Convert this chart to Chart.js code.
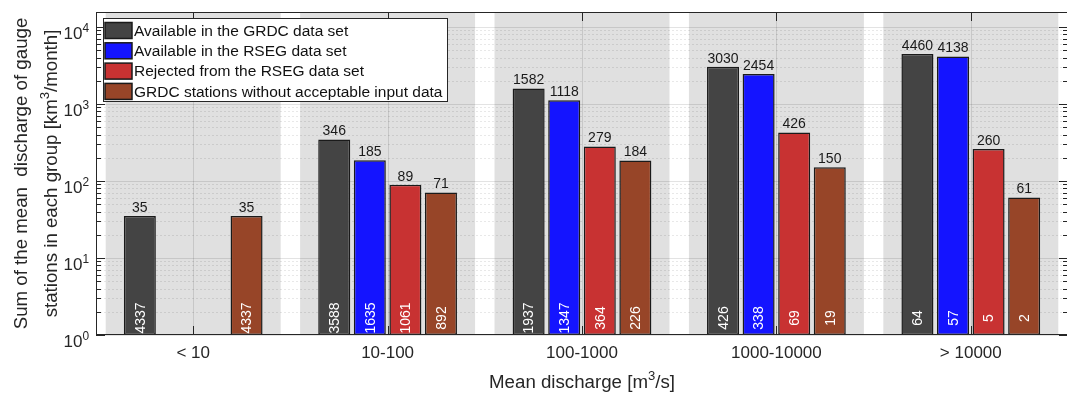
<!DOCTYPE html>
<html>
<head>
<meta charset="utf-8">
<script src="https://cdn.jsdelivr.net/npm/chart.js@4/dist/chart.umd.min.js"></script>
<style>
  html, body { margin: 0; padding: 0; background: #fff; overflow: hidden; }
  #wrap { width: 1067px; height: 393px; overflow: hidden; }
</style>
</head>
<body>
<div id="wrap"><canvas id="chart" width="1070" height="393"></canvas></div>
<script>
// discharge groups (mean discharge in m3/s)
const groupLabels = ['< 10', '10-100', '100-1000', '1000-10000', '> 10000'];
const seriesNames = [
    'Available in the GRDC data set',
    'Available in the RSEG data set',
    'Rejected from the RSEG data set',
    'GRDC stations without acceptable input data'
];
const seriesColors = ['#444444', '#1414ff', '#c83232', '#974528'];

// sum of mean discharge [km3/month]
const grdcDischarge = [35, 346, 1582, 3030, 4460];
const rsegDischarge = [null, 185, 1118, 2454, 4138];
const rejectedDischarge = [null, 89, 279, 426, 260];
const noInputDischarge = [35, 71, 184, 150, 61];

// number of gauge stations (printed inside the bars)
const grdcCount = [4337, 3588, 1937, 426, 64];
const rsegCount = [null, 1635, 1347, 338, 57];
const rejectedCount = [null, 1061, 364, 69, 5];
const noInputCount = [4337, 892, 226, 19, 2];

const yDecades = [0, 1, 2, 3, 4];

const FONT = '"Liberation Sans", Arial, Helvetica, sans-serif';
const AXIS_COLOR = '#262626';

function makeDataset(i, values, counts) {
    return {
        label: seriesNames[i],
        data: values,
        counts: counts,
        backgroundColor: seriesColors[i],
        borderColor: '#1a1a1a',
        borderWidth: 1.5,
        borderSkipped: false
    };
}

// text with a superscript part: [[text, isSup], ...]
function measureParts(ctx, parts, size) {
    let w = 0;
    parts.forEach(([t, sup]) => {
        ctx.font = (sup ? size * 0.7 : size) + 'px ' + FONT;
        w += ctx.measureText(t).width;
    });
    return w;
}

function drawParts(ctx, parts, size, x, y) {
    let cx = x;
    parts.forEach(([t, sup]) => {
        ctx.font = (sup ? size * 0.7 : size) + 'px ' + FONT;
        ctx.fillText(t, cx, sup ? y - size * 0.42 : y);
        cx += ctx.measureText(t).width;
    });
}

const decorPlugin = {
    id: 'decor',
    beforeDatasetsDraw(chart) {
        const {ctx, chartArea: a, scales: {x, y}} = chart;
        const step = x.getPixelForValue(1) - x.getPixelForValue(0);
        ctx.save();

        // grey band behind each group
        ctx.fillStyle = '#e0e0e0';
        groupLabels.forEach((g, i) => {
            const cx = x.getPixelForValue(i);
            ctx.fillRect(cx - step * 0.45, a.top, step * 0.9, a.bottom - a.top);
        });

        // horizontal grid, solid at decades, dotted at minor values
        ctx.lineWidth = 1;
        yDecades.forEach(d => {
            for (let m = 1; m <= 9; m++) {
                const v = m * Math.pow(10, d);
                if (v > y.max) break;
                const py = Math.round(y.getPixelForValue(v)) + 0.5;
                ctx.beginPath();
                if (m === 1) {
                    ctx.setLineDash([]);
                    ctx.strokeStyle = 'rgba(0,0,0,0.11)';
                } else {
                    ctx.setLineDash([2, 2]);
                    ctx.strokeStyle = 'rgba(0,0,0,0.09)';
                }
                ctx.moveTo(a.left, py);
                ctx.lineTo(a.right, py);
                ctx.stroke();
            }
        });

        // vertical grid at category centres
        ctx.setLineDash([]);
        ctx.strokeStyle = 'rgba(0,0,0,0.11)';
        groupLabels.forEach((g, i) => {
            const px = Math.round(x.getPixelForValue(i)) + 0.5;
            ctx.beginPath();
            ctx.moveTo(px, a.top);
            ctx.lineTo(px, a.bottom);
            ctx.stroke();
        });
        ctx.restore();
    },
    afterDatasetsDraw(chart) {
        const {ctx, chartArea: a, scales: {x, y}} = chart;
        ctx.save();

        // value labels
        chart.data.datasets.forEach((ds, di) => {
            const meta = chart.getDatasetMeta(di);
            meta.data.forEach((bar, j) => {
                if (ds.data[j] == null) return;
                ctx.font = '14px ' + FONT;
                ctx.fillStyle = '#1a1a1a';
                ctx.textAlign = 'center';
                ctx.textBaseline = 'bottom';
                ctx.fillText(String(ds.data[j]), bar.x, bar.y - 1);

                ctx.save();
                ctx.translate(bar.x, a.bottom - 17);
                ctx.rotate(-Math.PI / 2);
                ctx.fillStyle = '#ffffff';
                ctx.textBaseline = 'middle';
                ctx.fillText(String(ds.counts[j]), 0, 1);
                ctx.restore();
            });
        });

        // axes box
        ctx.strokeStyle = AXIS_COLOR;
        ctx.lineWidth = 1;
        ctx.strokeRect(a.left + 0.5, a.top + 0.5, a.right - a.left - 1, a.bottom - a.top - 1);

        // y ticks (inside, both sides)
        ctx.beginPath();
        yDecades.forEach(d => {
            for (let m = 1; m <= 9; m++) {
                const v = m * Math.pow(10, d);
                if (v > y.max) break;
                const py = Math.round(y.getPixelForValue(v)) + 0.5;
                const len = m === 1 ? 9 : 5;
                ctx.moveTo(a.left, py); ctx.lineTo(a.left + len, py);
                ctx.moveTo(a.right, py); ctx.lineTo(a.right - len, py);
            }
        });
        // x ticks at top and bottom
        groupLabels.forEach((g, i) => {
            const px = Math.round(x.getPixelForValue(i)) + 0.5;
            ctx.moveTo(px, a.bottom); ctx.lineTo(px, a.bottom - 9);
            ctx.moveTo(px, a.top); ctx.lineTo(px, a.top + 9);
        });
        ctx.stroke();

        // y tick labels 10^n
        ctx.fillStyle = AXIS_COLOR;
        ctx.textAlign = 'left';
        ctx.textBaseline = 'alphabetic';
        yDecades.forEach(d => {
            const py = y.getPixelForValue(Math.pow(10, d));
            const parts = [['10', false], [String(d), true]];
            const w = measureParts(ctx, parts, 17);
            drawParts(ctx, parts, 17, a.left - 7 - w, py + 12);
        });

        // category labels
        ctx.font = '17px ' + FONT;
        ctx.textAlign = 'center';
        ctx.textBaseline = 'middle';
        groupLabels.forEach((g, i) => {
            ctx.fillText(g, x.getPixelForValue(i), a.bottom + 18);
        });

        // x axis title
        ctx.textAlign = 'left';
        ctx.textBaseline = 'alphabetic';
        const xt = [['Mean discharge [m', false], ['3', true], ['/s]', false]];
        const xw = measureParts(ctx, xt, 18.7);
        drawParts(ctx, xt, 18.7, (a.left + a.right) / 2 - xw / 2, a.bottom + 53);

        // y axis title (two lines, rotated)
        const cy = (a.top + a.bottom) / 2;
        const l1 = [['Sum of the mean  discharge of gauge', false]];
        const l2 = [['stations in each group [km', false], ['3', true], ['/month]', false]];
        [[l1, 27], [l2, 57]].forEach(([parts, bx]) => {
            const w = measureParts(ctx, parts, 18.7);
            ctx.save();
            ctx.translate(bx, cy);
            ctx.rotate(-Math.PI / 2);
            drawParts(ctx, parts, 18.7, -w / 2, 0);
            ctx.restore();
        });

        // legend box
        const lx = a.left + 7, ly = a.top + 6, lw = 345, lh = 84;
        ctx.fillStyle = '#ffffff';
        ctx.fillRect(lx, ly, lw, lh);
        ctx.strokeStyle = AXIS_COLOR;
        ctx.strokeRect(lx + 0.5, ly + 0.5, lw - 1, lh - 1);
        ctx.font = '15.5px ' + FONT;
        ctx.textBaseline = 'middle';
        chart.data.datasets.forEach((ds, i) => {
            const ry = ly + 12.5 + i * 20.3;
            ctx.fillStyle = ds.backgroundColor;
            ctx.fillRect(lx + 2, ry - 8, 27, 16);
            ctx.strokeStyle = '#1a1a1a';
            ctx.lineWidth = 1.5;
            ctx.strokeRect(lx + 2, ry - 8, 27, 16);
            ctx.fillStyle = '#111111';
            ctx.fillText(ds.label, lx + 31, ry + 1);
        });
        ctx.restore();
    }
};

new Chart(document.getElementById('chart'), {
    type: 'bar',
    data: {
        labels: groupLabels,
        datasets: [
            makeDataset(0, grdcDischarge, grdcCount),
            makeDataset(1, rsegDischarge, rsegCount),
            makeDataset(2, rejectedDischarge, rejectedCount),
            makeDataset(3, noInputDischarge, noInputCount)
        ]
    },
    options: {
        responsive: false,
        animation: false,
        devicePixelRatio: 1,
        layout: { padding: { top: 12, right: 2, left: 0, bottom: 0 } },
        datasets: { bar: { categoryPercentage: 0.732, barPercentage: 0.9 } },
        plugins: { legend: { display: false }, tooltip: { enabled: false } },
        scales: {
            x: {
                grid: { display: false },
                border: { display: false },
                ticks: { display: false },
                afterFit: s => { s.height = 58; }
            },
            y: {
                type: 'logarithmic',
                min: 1,
                max: 15600,
                grid: { display: false },
                border: { display: false },
                ticks: { display: false },
                afterFit: s => { s.width = 96; }
            }
        }
    },
    plugins: [decorPlugin]
});
</script>
</body>
</html>
